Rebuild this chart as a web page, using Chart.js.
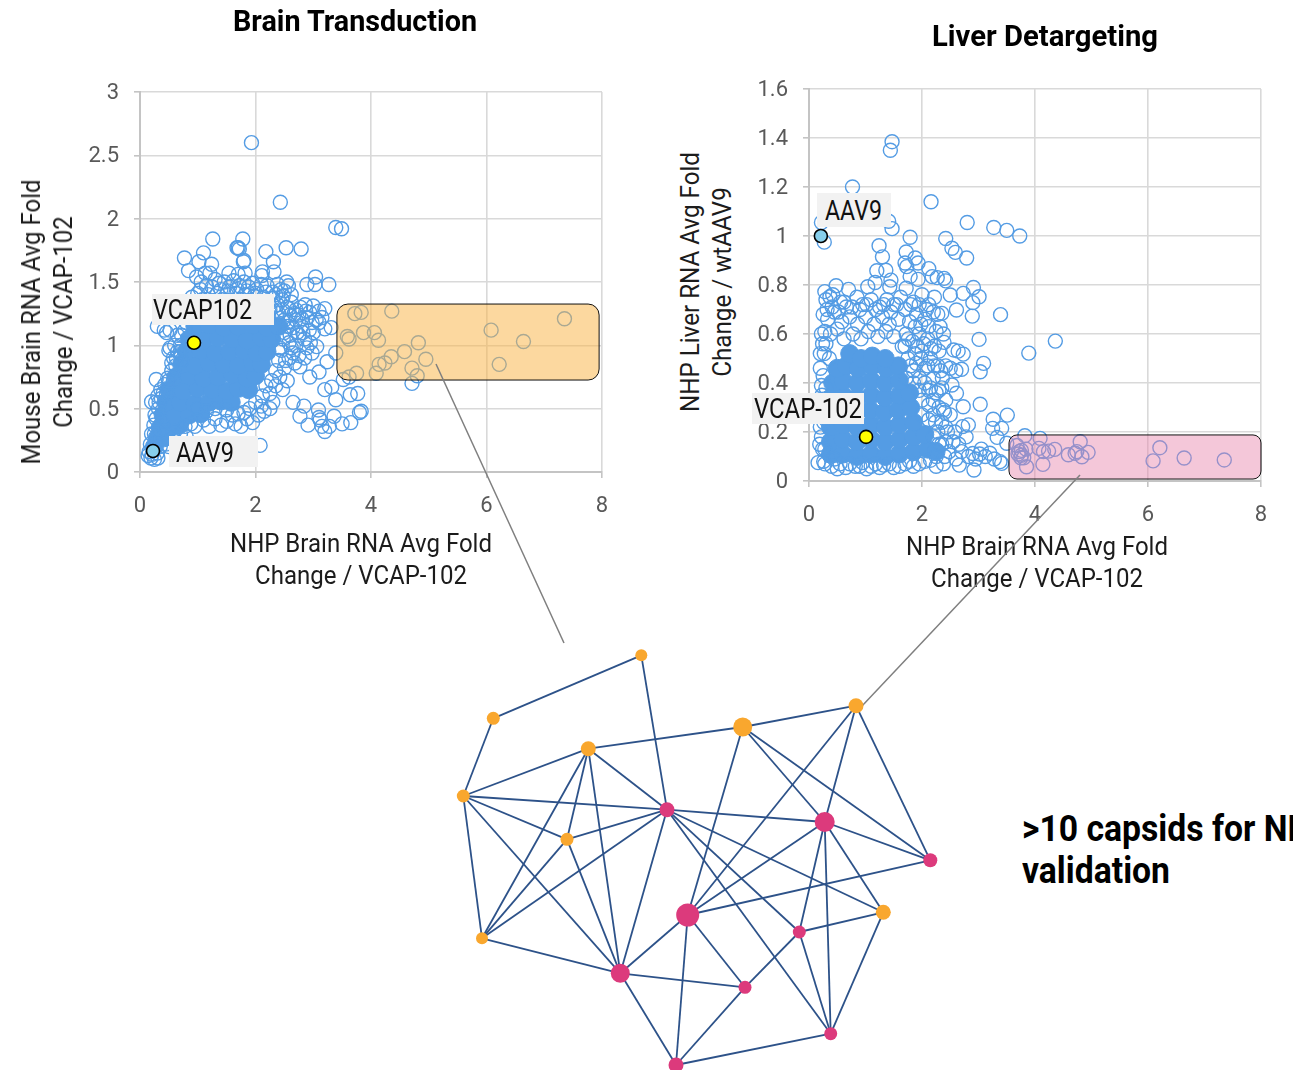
<!DOCTYPE html>
<html><head><meta charset="utf-8">
<script src="https://cdn.jsdelivr.net/npm/chart.js@4/dist/chart.umd.min.js"></script>
<style>
html,body{margin:0;padding:0;background:#fff;width:1293px;height:1070px;overflow:hidden}
body{position:relative;font-family:Roboto,sans-serif}
canvas{position:absolute;display:block}
.t{position:absolute;white-space:nowrap;text-align:center;color:#111;z-index:1}
.h{font-weight:700;font-size:30px;line-height:36px;color:#000}
.a{font-size:25px;line-height:32px;color:#1c1c1c}
.l{position:absolute;background:#f2f2f2;z-index:2;box-sizing:border-box}
.l span{position:absolute;font-size:27px;line-height:31px;color:#111;white-space:nowrap;transform-origin:0 50%}
.big{position:absolute;left:1022px;top:808px;font-weight:700;font-size:36px;line-height:42px;color:#000;white-space:nowrap;z-index:1;transform-origin:0 0}
</style></head><body>
<div class="t h" data-w="244" data-t="translateX(-50%)" style="left:355px;top:3px">Brain Transduction</div>
<div class="t h" data-w="226" data-t="translateX(-50%)" style="left:1045px;top:18px">Liver Detargeting</div>
<div class="t a" data-w="285" data-t="translate(-50%,-50%) rotate(-90deg)" style="left:48px;top:322px">Mouse Brain RNA Avg Fold<br>Change / VCAP-102</div>
<div class="t a" data-w="260" data-t="translate(-50%,-50%) rotate(-90deg)" style="left:707px;top:282px">NHP Liver RNA Avg Fold<br>Change / wtAAV9</div>
<div class="t a" data-w="262" data-t="translateX(-50%)" style="left:361px;top:528px">NHP Brain RNA Avg Fold<br>Change / VCAP-102</div>
<div class="t a" data-w="262" data-t="translateX(-50%)" style="left:1037px;top:531px">NHP Brain RNA Avg Fold<br>Change / VCAP-102</div>
<canvas id="c1" width="640" height="560" style="left:0;top:0"></canvas>
<canvas id="c2" width="553" height="560" style="left:740px;top:0"></canvas>
<div class="l" style="left:152px;top:294px;width:122px;height:31px"><span data-w="99" data-t="" style="left:1px;top:1px">VCAP102</span></div>
<div class="l" style="left:169px;top:436px;width:89px;height:31px"><span data-w="58" data-t="" style="left:7px;top:2px">AAV9</span></div>
<div class="l" style="left:817px;top:193px;width:74px;height:34px"><span data-w="57" data-t="" style="left:8px;top:3px">AAV9</span></div>
<div class="l" style="left:752px;top:393px;width:112px;height:31px"><span data-w="108" data-t="" style="left:2px;top:1px">VCAP-102</span></div>
<div class="big" id="big">&gt;10 capsids for NHP<br><span id="bigLine">validation</span></div>
<canvas id="net" width="1293" height="1070" style="left:0;top:0;z-index:3;pointer-events:none"></canvas>
<script>
const xTicks=[0,2,4,6,8];
const brainYTicks=[0,0.5,1,1.5,2,2.5,3];
const liverYTicks=[0,0.2,0.4,0.6,0.8,1,1.2,1.4,1.6];
const brainVcap=[[0.935,1.02]];
const brainAav9=[[0.225,0.166]];
const liverVcap=[[1.01,0.18]];
const liverAav9=[[0.21,1.0]];
const brainBox=[3.41,7.95,0.726,1.326];
const liverBox=[3.54,8.0,0.008,0.188];
const brainOutliers=[[1.93,2.6],[2.43,2.13],[3.39,1.93],[3.49,1.92],[1.26,1.84],[1.78,1.84],[1.68,1.77],[1.72,1.76],[1.7,1.77],[0.77,1.69],[1.1,1.73],[2.18,1.74],[2.53,1.77],[2.79,1.76],[1.02,1.66],[1.24,1.64],[1.8,1.67],[1.79,1.66],[2.31,1.66],[0.84,1.59],[2.32,1.58],[2.12,1.58],[2.11,1.55],[1.82,1.57],[1.7,1.56],[1.54,1.57],[3.04,1.54],[3.27,1.48],[2.89,1.48],[3.03,1.48],[2.54,1.5],[2.57,1.47],[0.98,1.54],[1.13,1.57],[1.21,1.57],[1.06,1.5],[1.15,1.47],[1.3,1.52],[1.37,1.49],[1.46,1.5],[1.55,1.46],[1.62,1.51],[1.72,1.47],[1.8,1.5],[1.88,1.46],[1.95,1.49],[2.02,1.44],[2.1,1.48],[2.2,1.47],[2.3,1.42],[2.38,1.48],[2.44,1.44],[2.5,1.43],[2.62,1.4]];
const brainBand=[[0.9,1.38],[1,1.41],[1.08,1.36],[1.18,1.4],[1.26,1.35],[1.34,1.41],[1.42,1.36],[1.5,1.4],[1.58,1.35],[1.66,1.41],[1.74,1.36],[1.82,1.4],[1.9,1.35],[1.98,1.39],[2.06,1.34],[2.14,1.38],[2.22,1.33],[2.3,1.37],[2.38,1.32],[2.46,1.36],[2.54,1.3],[2.62,1.34],[2.7,1.28],[2.78,1.3],[2.86,1.32],[2.94,1.26],[3,1.31],[3.1,1.27],[3.2,1.29],[2.6,1.24],[2.7,1.2],[2.8,1.15],[2.9,1.22],[3,1.1],[3.1,1.18],[3.2,1.13],[3.31,1.14],[2.85,1.05],[2.95,1.02],[2.6,1.08],[2.7,1],[2.75,0.92],[2.58,0.9],[2.5,0.82],[2.42,0.75],[2.35,0.68],[2.25,0.62],[2.3,0.55],[2.89,0.98],[2.77,0.83],[2.94,0.75],[3.1,0.79],[3.24,0.87],[3.2,0.65],[3.32,0.67],[3.39,0.57],[3.64,0.61],[3.77,0.62],[3.83,0.48],[3.8,0.47],[3.5,0.38],[3.65,0.39],[3.2,0.32],[3.36,0.44],[3.1,0.43],[3.09,0.49],[3.12,0.41],[2.91,0.37],[2.77,0.44],[2.65,0.55],[2.84,0.52],[2.47,0.65],[2.08,0.21],[3.28,0.36],[3.15,0.36],[2.55,0.72],[2.62,0.98],[2.68,0.86],[2.85,0.9],[2.98,0.94],[3.06,0.99],[2.72,1.1],[2.55,1.15],[2.48,1.05],[2.42,0.98],[1.05,1.44],[1.25,1.46],[1.4,1.44],[1.52,1.43],[1.68,1.44],[1.85,1.43],[2,1.41],[2.18,1.42],[2.35,1.4],[2.48,1.39],[1.12,1.31],[1.28,1.3],[1.43,1.33],[1.58,1.29],[1.72,1.32],[1.88,1.28],[2.03,1.32],[2.18,1.29],[2.33,1.31],[2.47,1.28],[2.58,1.29],[2.67,1.25],[2.75,1.24],[2.55,1.18],[2.65,1.14],[2.75,1.08],[2.5,1.1],[2.58,1.02],[2.65,0.94],[2.45,0.96],[2.52,0.88],[2.4,0.88],[2.35,0.8],[2.28,0.72],[2.18,0.68],[2.12,0.6],[2.82,1.1],[2.93,1.12],[3.05,1.2],[2.98,1.18],[3.15,1.22],[2.87,1.27],[2.8,1.21]];
const brainEdge=[[0.3,1.15],[0.42,1.12],[0.46,1.1],[0.52,1.12],[0.52,0.98],[0.55,0.86],[0.5,0.96],[0.58,0.9],[0.62,0.84],[0.28,0.73],[0.43,0.69],[0.48,0.74],[0.36,0.65],[0.2,0.555],[0.27,0.55],[0.31,0.6],[0.37,0.58],[0.14,0.13],[0.19,0.11],[0.25,0.1],[0.31,0.11],[0.16,0.16],[0.21,0.14],[0.3,0.15],[0.18,0.22],[0.2,0.3],[0.24,0.37],[0.26,0.45],[0.32,0.5],[1.3,0.42],[1.5,0.4],[1.65,0.38],[1.75,0.36],[1.85,0.42],[1.95,0.39],[2.05,0.45],[2.15,0.48],[2.25,0.5],[2,0.55],[1.4,0.37],[0.95,0.36],[0.8,0.28],[0.7,0.3],[0.62,0.24],[0.5,0.2],[1.1,0.41],[1.2,0.36],[1.6,0.45],[1.8,0.47],[2.1,0.52],[0.98,1.25],[1.08,1.3],[1.2,1.27],[1.35,1.31],[1.5,1.27],[1.65,1.3],[1.8,1.26],[1.95,1.3],[2.1,1.26],[2.25,1.28],[2.4,1.25],[2.5,1.2],[0.7,1],[0.78,1.12],[0.65,0.95],[0.72,0.88],[0.58,0.72],[0.46,0.62],[0.38,0.4],[0.34,0.32],[1,0.5],[1.15,0.48],[1.3,0.5],[1.5,0.49],[1.7,0.46],[1.9,0.5],[0.88,0.38],[0.78,0.36],[0.6,0.32],[0.55,0.27],[0.45,0.22],[0.35,0.2],[0.28,0.22],[0.25,0.3],[0.28,0.42],[0.33,0.55],[0.4,0.62],[0.5,0.72],[0.55,0.8],[0.63,0.9],[0.7,0.95],[0.72,1.08],[0.8,1.18],[0.86,1.24],[0.92,1.3],[0.65,1.08],[0.6,1]];
const brainDense=[[0.25,0.2],[0.3,0.27],[0.42,0.27],[0.35,0.35],[0.5,0.34],[0.68,0.37],[0.4,0.45],[0.6,0.44],[0.85,0.45],[1.05,0.46],[0.45,0.55],[0.7,0.55],[0.95,0.54],[1.2,0.55],[1.4,0.56],[1.58,0.55],[0.5,0.65],[0.75,0.64],[1,0.66],[1.25,0.65],[1.5,0.64],[1.7,0.66],[1.88,0.65],[0.62,0.75],[0.85,0.76],[1.1,0.74],[1.35,0.75],[1.6,0.77],[1.85,0.74],[2,0.76],[0.72,0.85],[0.95,0.84],[1.2,0.86],[1.45,0.85],[1.7,0.84],[1.95,0.86],[2.1,0.85],[0.8,0.95],[1.05,0.96],[1.3,0.94],[1.55,0.95],[1.8,0.96],[2.02,0.94],[2.2,0.95],[0.85,1.05],[1.1,1.04],[1.35,1.06],[1.6,1.05],[1.85,1.04],[2.1,1.06],[2.28,1.05],[0.95,1.15],[1.2,1.16],[1.45,1.14],[1.7,1.15],[1.95,1.16],[2.2,1.14],[2.4,1.15],[1.3,1.23],[1.6,1.22],[1.9,1.23],[2.2,1.22]];
const brainHits=[[3.72,1.25],[3.83,1.26],[4.36,1.27],[7.35,1.21],[6.08,1.12],[6.64,1.03],[6.22,0.85],[4.95,0.89],[4.82,1.02],[4.58,0.95],[4.35,0.91],[4.24,0.86],[4.14,0.85],[4.09,0.78],[3.75,0.78],[4.71,0.82],[4.8,0.76],[4.71,0.7],[3.59,1.07],[3.62,1.05],[3.87,1.1],[4.06,1.1],[4.13,1.04],[3.39,0.94],[3.52,0.73],[3.62,0.75]];
const liverOutliers=[[1.47,1.385],[1.44,1.35],[0.77,1.2],[2.16,1.14],[2.8,1.055],[3.27,1.035],[3.5,1.023],[3.73,1],[1.41,1.06],[1.47,1.03],[0.22,1.055],[0.27,0.975],[1.79,0.995],[2.42,0.99],[1.24,0.96],[1.3,0.915],[2.53,0.95],[2.59,0.933],[2.79,0.91],[1.72,0.935],[1.7,0.89],[1.73,0.875],[1.88,0.91],[1.93,0.89],[2.12,0.867],[1.2,0.858],[1.36,0.86],[1.17,0.81],[1.45,0.82],[1.79,0.835],[1.93,0.823],[2.18,0.834],[2.27,0.83],[2.39,0.827],[2.42,0.817],[2.91,0.79],[0.48,0.797],[0.7,0.782],[1.04,0.793],[0.28,0.773],[0.37,0.752],[1.43,0.793],[1.72,0.787],[3.01,0.752],[2.9,0.728],[2.73,0.766],[2.5,0.759],[2.61,0.698],[2.89,0.673],[2.35,0.684],[3.39,0.679],[3.01,0.578],[4.36,0.571],[3.89,0.522],[3.09,0.48],[3.03,0.446],[2.7,0.456],[2.5,0.46],[2.6,0.45],[2.73,0.518],[2.64,0.53],[2.56,0.535],[2.39,0.566],[3.03,0.313],[3.51,0.269],[3.26,0.252],[3.41,0.215],[3.25,0.215],[3.33,0.178],[3.5,0.154],[2.92,0.045],[3.38,0.079],[3.41,0.072],[3.2,0.113],[3.02,0.11],[2.9,0.112],[3.05,0.13],[2.73,0.303],[2.61,0.358],[2.53,0.392],[2.82,0.229],[2.72,0.222],[2.78,0.18],[2.65,0.15],[2.6,0.09],[2.66,0.065]];
const liverBand=[[0.3,0.74],[0.42,0.76],[0.56,0.73],[0.66,0.71],[0.85,0.75],[0.95,0.72],[1.1,0.74],[1.25,0.71],[1.38,0.74],[1.5,0.72],[1.62,0.75],[1.85,0.73],[2,0.76],[2.12,0.72],[2.22,0.75],[1.9,0.68],[2.05,0.66],[2.2,0.69],[2.32,0.63],[1.78,0.65],[0.25,0.68],[0.33,0.66],[0.45,0.69],[0.58,0.65],[0.72,0.67],[0.86,0.64],[1,0.67],[1.15,0.64],[1.3,0.67],[1.42,0.64],[1.58,0.66],[1.72,0.6],[0.28,0.61],[0.38,0.6],[0.5,0.62],[0.62,0.58],[0.78,0.6],[0.92,0.58],[1.05,0.61],[1.22,0.59],[1.36,0.61],[1.5,0.59],[1.65,0.55],[1.95,0.6],[2.1,0.58],[2.22,0.55],[2,0.53],[2.15,0.5],[1.88,0.52],[2.28,0.47],[2.36,0.42],[2.2,0.42],[2.3,0.37],[2.42,0.33],[2.12,0.37],[2.05,0.46],[1.96,0.42],[0.2,0.46],[0.22,0.39],[0.17,0.33],[0.24,0.28],[0.2,0.22],[0.19,0.15],[0.16,0.075],[0.26,0.08],[0.24,0.13],[0.4,0.06],[0.55,0.07],[0.65,0.055],[0.82,0.06],[0.95,0.075],[1.1,0.06],[1.25,0.055],[1.42,0.07],[1.6,0.06],[1.78,0.08],[1.95,0.07],[2.15,0.085],[2.25,0.1],[2.38,0.07],[2.48,0.12],[2.35,0.15],[2.28,0.2],[2.42,0.22],[2.5,0.27],[2.2,0.27],[2.38,0.29],[0.27,0.52],[0.24,0.56],[0.36,0.5],[1.75,0.5],[1.85,0.45],[2.58,0.2],[2.55,0.16],[2.7,0.12],[2.82,0.1],[2.95,0.09],[3.12,0.1],[3.28,0.09],[0.32,0.7],[0.41,0.71],[0.52,0.69],[0.62,0.73],[0.76,0.71],[0.9,0.7],[1.02,0.72],[1.18,0.7],[1.32,0.72],[1.45,0.69],[1.55,0.72],[1.7,0.7],[1.8,0.72],[1.95,0.72],[2.08,0.7],[2.28,0.68],[1.88,0.63],[1.98,0.64],[2.12,0.63],[2.25,0.61],[2.38,0.6],[1.7,0.55],[1.76,0.58],[1.83,0.57],[1.92,0.55],[2.03,0.56],[2.16,0.54],[2.3,0.53],[1.8,0.47],[1.9,0.48],[1.98,0.5],[2.1,0.47],[2.22,0.47],[2.33,0.45],[2.42,0.47],[1.72,0.42],[1.85,0.4],[1.95,0.37],[2.05,0.4],[2.15,0.38],[2.25,0.36],[2.35,0.38],[2,0.33],[2.12,0.31],[2.2,0.33],[2.3,0.3],[2.4,0.28],[2,0.27],[2.12,0.25],[2.24,0.24],[2.35,0.24],[2.45,0.2],[2.2,0.18],[2.3,0.15],[2.42,0.16],[2.4,0.1],[0.22,0.6],[0.2,0.52],[0.25,0.43],[0.23,0.35],[0.26,0.24],[0.22,0.18],[0.28,0.13],[0.28,0.07],[0.45,0.09],[0.5,0.05],[0.72,0.07],[0.9,0.06],[1.02,0.05],[1.18,0.07],[1.32,0.065],[1.5,0.055],[1.7,0.07],[1.85,0.06],[2.05,0.08],[2.25,0.06],[0.3,0.38],[0.3,0.32],[0.3,0.25],[0.3,0.56]];
const liverDense=[[0.38,0.11],[0.6,0.11],[0.85,0.1],[1.1,0.11],[1.35,0.1],[1.6,0.11],[1.85,0.12],[2.1,0.13],[2.25,0.12],[0.38,0.16],[0.6,0.17],[0.85,0.16],[1.1,0.17],[1.35,0.16],[1.6,0.17],[1.85,0.18],[2.05,0.19],[0.38,0.22],[0.6,0.23],[0.85,0.22],[1.1,0.23],[1.35,0.22],[1.6,0.23],[1.85,0.24],[0.38,0.28],[0.58,0.29],[0.83,0.28],[1.08,0.29],[1.33,0.28],[1.58,0.29],[1.8,0.3],[0.4,0.34],[0.6,0.35],[0.85,0.34],[1.1,0.35],[1.35,0.34],[1.6,0.35],[1.78,0.36],[0.42,0.4],[0.6,0.41],[0.85,0.4],[1.1,0.41],[1.35,0.4],[1.6,0.41],[0.5,0.46],[0.66,0.47],[0.87,0.46],[1.12,0.47],[1.37,0.46],[1.58,0.47],[0.72,0.52],[0.92,0.5],[1.12,0.51],[1.35,0.5]];
const liverHits=[[3.82,0.185],[4.09,0.174],[4.8,0.16],[6.21,0.136],[6.09,0.082],[6.64,0.094],[7.35,0.086],[4.14,0.068],[3.85,0.058],[4.07,0.133],[4.15,0.12],[4.24,0.122],[4.35,0.129],[4.59,0.107],[4.71,0.113],[4.74,0.12],[4.83,0.099],[4.94,0.117],[3.68,0.145],[3.72,0.12],[3.76,0.105],[3.7,0.11],[3.84,0.13],[3.76,0.125],[3.8,0.095],[3.75,0.095]];
const nodeNames=["A","B","C","D","E","F","G","H","I","J","K","L","M","N","O","P","Q","R"];
const nodeX=[641.3,493.3,588.3,463.3,567,482,742.7,856,883.3,667,824.7,930.3,687.7,799.3,620.3,745,830.7,676];
const nodeY=[655.3,718.3,748.7,796,839.3,938.3,727,705.7,912.3,809.7,822,860.3,915,932,973.3,987.3,1033.7,1065];
const nodeSize=[6,6.5,7.5,6.5,6.5,6,9.5,7.5,7.5,7.5,10,7,11.5,6.5,9.5,6.5,6.5,7.5];
const nodeGroup=["o","o","o","o","o","o","o","o","o","p","p","p","p","p","p","p","p","p"];
const edges=["A-B","A-J","B-D","C-G","G-H","C-D","C-J","C-E","C-F","C-O","D-J","D-E","D-F","D-O","E-J","E-F","E-O","J-F","J-O","J-K","J-N","J-I","J-Q","G-M","G-K","G-L","H-M","H-K","H-L","K-M","K-L","K-N","K-I","K-Q","M-L","M-O","M-P","M-R","N-I","N-P","N-Q","I-Q","O-F","O-P","O-R","P-R","R-Q"];
const leaderLines=[[[436,364],[564,643]],[[1080,475],[862,706]]];

/* narrow the reference's condensed typeface out of Roboto */
document.querySelectorAll('[data-w]').forEach(el=>{
  const w=el.getBoundingClientRect().width,base=el.dataset.t;
  el.style.transform=(base+' scaleX('+(+el.dataset.w/w)+')').trim();
});
(function(){const b=document.getElementById('big'),w=document.getElementById('bigLine').getBoundingClientRect().width;b.style.transform='scaleX('+(148/w)+')';})();

const POINT='#549ce4',TICK='#595959';
const pts=a=>a.map(p=>({x:p[0],y:p[1]}));
const boxPlugin={id:'regionBox',afterDatasetsDraw(ch,_,o){
  const {x,y}=ch.scales,ctx=ch.ctx;
  const L=x.getPixelForValue(o.range[0]),R=x.getPixelForValue(o.range[1]),B=y.getPixelForValue(o.range[2]),T=y.getPixelForValue(o.range[3]);
  ctx.save();ctx.beginPath();ctx.roundRect(L,T,R-L,B-T,o.radius);
  ctx.fillStyle=o.fill;ctx.fill();ctx.strokeStyle='#111';ctx.lineWidth=1;ctx.stroke();ctx.restore();
}};
function scatter(id,pad,xH,yW,yMax,yTicks,rows,dense,hl,box,fill,radius){
  return new Chart(document.getElementById(id),{type:'scatter',plugins:[boxPlugin],data:{datasets:[
    {label:'VCAP-102',data:pts(hl[1]),pointRadius:6.5,pointBackgroundColor:'#ffff00',pointBorderColor:'#000',pointBorderWidth:1.6},
    {label:'AAV9',data:pts(hl[0]),pointRadius:6.5,pointBackgroundColor:'#87cfec',pointBorderColor:'#000',pointBorderWidth:1.6},
    {label:'capsids',data:pts(rows),pointRadius:7,pointBackgroundColor:'rgba(0,0,0,0)',pointBorderColor:POINT,pointBorderWidth:1.4},
    {label:'overplotted core',data:pts(dense),pointRadius:9,pointBackgroundColor:POINT,pointBorderColor:POINT,pointBorderWidth:1}
  ]},options:{responsive:false,animation:false,devicePixelRatio:1,layout:{padding:pad},
    plugins:{legend:{display:false},tooltip:{enabled:false},regionBox:{range:box,fill:fill,radius:radius}},
    scales:{
      x:{type:'linear',min:0,max:8,afterFit:s=>{s.height=xH},afterBuildTicks:s=>{s.ticks=xTicks.map(v=>({value:v}))},
        grid:{color:'#d9d9d9',lineWidth:1.6,tickLength:6,tickColor:'#c4c4c4'},border:{color:'#c4c4c4',width:2},
        ticks:{maxRotation:0,color:TICK,padding:15,font:{size:22,family:'Roboto'},callback:v=>String(v)}},
      y:{type:'linear',min:0,max:yMax,afterFit:s=>{s.width=yW},afterBuildTicks:s=>{s.ticks=yTicks.map(v=>({value:v}))},
        grid:{color:'#d9d9d9',lineWidth:1.6,tickLength:6,tickColor:'#c4c4c4'},border:{color:'#c4c4c4',width:2},
        ticks:{color:TICK,padding:15,labelOffset:1.5,font:{size:22,family:'Roboto'},callback:v=>String(v)}}
    }}});
}
scatter('c1',{top:92,right:38},88,140,3,brainYTicks,[...brainOutliers,...brainBand,...brainEdge,...brainHits],brainDense,[brainAav9,brainVcap],brainBox,'rgba(250,180,70,0.52)',11);
scatter('c2',{top:89,right:32},79,69,1.6,liverYTicks,[...liverOutliers,...liverBand,...liverHits],liverDense,[liverAav9,liverVcap],liverBox,'rgba(230,130,170,0.45)',8);

const idx=n=>nodeNames.indexOf(n);
const edgeSets=edges.map(e=>{const [a,b]=e.split('-').map(idx);
  return {showLine:true,clip:false,data:[{x:nodeX[a],y:nodeY[a]},{x:nodeX[b],y:nodeY[b]}],borderColor:'#2d5289',borderWidth:1.8,pointRadius:0,fill:false};});
const leaderSets=leaderLines.map(l=>({showLine:true,clip:false,data:pts(l),borderColor:'#7f7f7f',borderWidth:1.5,pointRadius:0,fill:false}));
const net=new Chart(document.getElementById('net'),{type:'scatter',data:{datasets:[...leaderSets,...edgeSets,
  {label:'nodes',clip:false,data:nodeX.map((x,i)=>({x,y:nodeY[i]})),pointRadius:nodeSize,pointBorderWidth:0,
   pointBackgroundColor:nodeGroup.map(g=>g==='o'?'#f9a72e':'#dc3a7c'),order:-1}]},
  options:{responsive:false,animation:false,devicePixelRatio:1,plugins:{legend:{display:false},tooltip:{enabled:false}},
   layout:{padding:0},scales:{x:{display:false,min:0,max:1293},y:{display:false,min:0,max:1070,reverse:true}}}});
/* the overlay's scale is the page itself: match it to whatever area the layout left */
const ca=net.chartArea;
net.options.scales.x.min=ca.left;net.options.scales.x.max=ca.right;
net.options.scales.y.min=ca.top;net.options.scales.y.max=ca.bottom;
net.update();
</script></body></html>
